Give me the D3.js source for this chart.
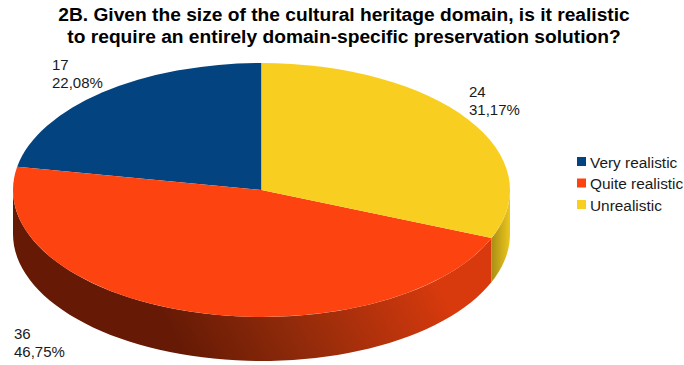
<!DOCTYPE html>
<html>
<head>
<meta charset="utf-8">
<script src="https://cdn.jsdelivr.net/npm/d3@7/dist/d3.min.js"></script>
<style>
  html, body { margin: 0; background: #fff; }
  text { font-family: "Liberation Sans", Arial, sans-serif; fill: #1a1a1a; }
</style>
</head>
<body>
<svg id="chart" width="684" height="365"></svg>
<script>
const categories = ["Very realistic", "Quite realistic", "Unrealistic"];
const counts = [17, 36, 24];
const percentLabels = ["22,08%", "46,75%", "31,17%"];
const topColors = ["#03437f", "#fd430f", "#f8cf21"];
const titleLines = [
  "2B. Given the size of the cultural heritage domain, is it realistic",
  "to require an entirely domain-specific preservation solution?"
];

const cx = 261.5, cy = 190, rx = 248.5, ry = 127, depth = 44;

const svg = d3.select("#chart");
const defs = svg.append("defs");

// Side wall shading: deep at the lower left, lighter toward the upper right.
const redWall = defs.append("linearGradient").attr("id", "wallRed")
  .attr("gradientUnits", "userSpaceOnUse")
  .attr("x1", 175).attr("y1", 335).attr("x2", 400).attr("y2", 210);
redWall.append("stop").attr("offset", 0).attr("stop-color", "#661a05");
redWall.append("stop").attr("offset", 0.4).attr("stop-color", "#8f2a0a");
redWall.append("stop").attr("offset", 1).attr("stop-color", "#d93a0d");

const yellowWall = defs.append("linearGradient").attr("id", "wallYellow")
  .attr("gradientUnits", "userSpaceOnUse")
  .attr("x1", 491).attr("y1", 0).attr("x2", 510).attr("y2", 0);
yellowWall.append("stop").attr("offset", 0).attr("stop-color", "#a88c14");
yellowWall.append("stop").attr("offset", 1).attr("stop-color", "#ecc81e");

const pie = d3.pie().sort(null).startAngle(0).endAngle(-2 * Math.PI);
const arcs = pie(counts);

const px = a => cx + rx * Math.sin(a);
const py = a => cy - ry * Math.cos(a);

// The outer wall runs over the part of each slice on the near half of the ellipse.
function wallPath(d) {
  const hi = Math.min(d.startAngle, -Math.PI / 2);
  const lo = Math.max(d.endAngle, -3 * Math.PI / 2);
  if (hi <= lo) return null;
  const steps = d3.range(0, 61).map(i => hi + (lo - hi) * i / 60);
  const upper = steps.map(a => [px(a), py(a)]);
  const lower = steps.slice().reverse().map(a => [px(a), py(a) + depth]);
  return d3.line()(upper.concat(lower)) + "Z";
}

const wallFills = [null, "url(#wallRed)", "url(#wallYellow)"];
svg.append("g").selectAll("path")
  .data(arcs.filter(d => wallPath(d)))
  .join("path")
  .attr("d", wallPath)
  .attr("fill", d => wallFills[d.index]);

// Top face: a circular pie flattened into an ellipse.
const arcGen = d3.arc().innerRadius(0).outerRadius(rx);
svg.append("g")
  .attr("transform", `translate(${cx},${cy}) scale(1,${ry / rx})`)
  .selectAll("path")
  .data(arcs)
  .join("path")
  .attr("d", arcGen)
  .attr("fill", d => topColors[d.index]);

// Title
svg.append("g").selectAll("text")
  .data(titleLines)
  .join("text")
  .attr("x", 344)
  .attr("y", (d, i) => 21 + i * 22)
  .attr("text-anchor", "middle")
  .attr("font-size", 19.2)
  .attr("font-weight", "bold")
  .style("fill", "#000")
  .text(d => d);

// Value labels beside each slice
const labelAnchors = [[52, 70], [14, 339], [469, 97]];
const labels = svg.append("g").selectAll("g")
  .data(arcs)
  .join("g")
  .attr("transform", d => `translate(${labelAnchors[d.index]})`);
labels.append("text").attr("font-size", 15).text(d => d.data);
labels.append("text").attr("y", 18).attr("font-size", 15).text(d => percentLabels[d.index]);

// Legend
const legend = svg.append("g").selectAll("g")
  .data(categories)
  .join("g")
  .attr("transform", (d, i) => `translate(577,${157 + i * 21.5})`);
legend.append("rect").attr("width", 9).attr("height", 9)
  .attr("fill", (d, i) => topColors[i]);
legend.append("text").attr("x", 13).attr("y", 10.5).attr("font-size", 15.4).text(d => d);
</script>
</body>
</html>
